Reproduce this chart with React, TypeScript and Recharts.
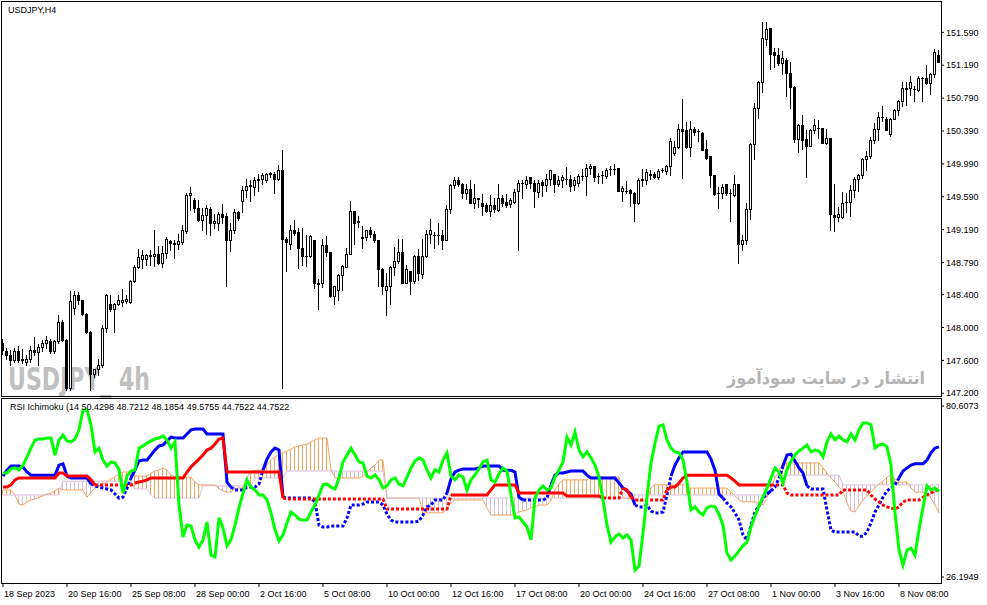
import React from "react";
import { Bar, ComposedChart, Line, XAxis, YAxis } from "recharts";

const FONT = "'Liberation Sans', Arial, sans-serif";
const ORANGE = "#f4a460";
const THISTLE = "#d8bfd8";

// one label every 16 H4 bars
const timeLabels = [
  "18 Sep 2023", "20 Sep 16:00", "25 Sep 08:00", "28 Sep 00:00", "2 Oct 16:00",
  "5 Oct 08:00", "10 Oct 00:00", "12 Oct 16:00", "17 Oct 08:00", "20 Oct 00:00",
  "24 Oct 16:00", "27 Oct 08:00", "1 Nov 00:00", "3 Nov 16:00", "8 Nov 08:00",
];
const priceTicks = [147.2, 147.6, 148.0, 148.4, 148.79, 149.19, 149.59, 149.99, 150.39, 150.79, 151.19, 151.59];
const rsiTicks = [26.1949, 80.6073];

// USDJPY H4 candles
const opens = [
  147.81, 147.71, 147.66, 147.60, 147.71, 147.60, 147.58, 147.62, 147.73, 147.70, 147.76, 147.81, 147.84, 147.72, 147.83, 148.07,
  147.85, 147.27, 148.24, 148.39, 148.33, 148.17, 147.94, 147.44, 147.49, 147.54, 148.00, 148.29, 148.23, 148.29, 148.31, 148.32,
  148.31, 148.56, 148.73, 148.83, 148.83, 148.87, 148.87, 148.90, 148.78, 148.91, 149.05, 149.03, 149.01, 149.04, 149.17, 149.61,
  149.55, 149.45, 149.31, 149.37, 149.44, 149.27, 149.27, 149.38, 149.36, 149.06, 149.18, 149.41, 149.54, 149.67, 149.72, 149.71,
  149.80, 149.81, 149.79, 149.87, 149.87, 149.81, 149.91, 149.08, 149.01, 149.19, 149.16, 148.97, 148.87, 148.87, 149.06, 148.54,
  148.54, 149.00, 148.92, 148.38, 148.46, 148.64, 148.74, 148.90, 149.42, 149.28, 149.10, 149.10, 149.19, 149.14, 149.06, 148.71,
  148.46, 148.50, 148.73, 148.81, 148.92, 148.54, 148.69, 148.56, 148.87, 148.65, 148.87, 149.14, 149.13, 149.12, 149.12, 149.07,
  149.44, 149.73, 149.80, 149.75, 149.64, 149.69, 149.52, 149.56, 149.51, 149.49, 149.42, 149.49, 149.43, 149.57, 149.53, 149.50,
  149.53, 149.66, 149.76, 149.74, 149.83, 149.76, 149.65, 149.77, 149.73, 149.81, 149.87, 149.75, 149.79, 149.81, 149.81, 149.73,
  149.76, 149.84, 149.84, 149.94, 149.96, 149.84, 149.85, 149.84, 149.93, 149.93, 149.94, 149.66, 149.66, 149.67, 149.64, 149.51,
  149.80, 149.79, 149.85, 149.87, 149.83, 149.91, 149.90, 149.96, 150.12, 150.20, 150.42, 150.40, 150.19, 150.41, 150.39, 150.37,
  150.17, 150.08, 149.86, 149.63, 149.63, 149.75, 149.63, 149.61, 149.75, 149.02, 149.06, 149.44, 150.23, 150.67, 150.99, 151.51,
  151.64, 151.35, 151.31, 151.22, 151.25, 151.10, 150.92, 150.29, 150.46, 150.29, 150.21, 150.40, 150.43, 150.43, 150.25, 150.30,
  149.37, 149.34, 149.35, 149.53, 149.53, 149.67, 149.81, 149.85, 150.05, 150.08, 150.28, 150.42, 150.56, 150.54, 150.35, 150.54,
  150.64, 150.75, 150.90, 150.91, 150.90, 150.89, 151.03, 151.04, 150.97, 151.08, 151.32,
];
const highs = [
  147.86, 147.75, 147.73, 147.75, 147.77, 147.74, 147.66, 147.77, 147.89, 147.80, 147.85, 147.90, 147.86, 147.85, 148.15, 148.09,
  147.86, 148.45, 148.45, 148.43, 148.34, 148.18, 147.96, 147.50, 147.62, 148.03, 148.41, 148.40, 148.30, 148.39, 148.47, 148.39,
  148.58, 148.76, 148.95, 148.94, 148.90, 148.94, 149.19, 148.99, 148.99, 149.10, 149.07, 149.06, 149.14, 149.25, 149.64, 149.71,
  149.58, 149.55, 149.45, 149.49, 149.46, 149.38, 149.41, 149.50, 149.39, 149.27, 149.44, 149.42, 149.72, 149.81, 149.79, 149.83,
  149.87, 149.88, 149.88, 149.89, 149.89, 149.98, 150.16, 149.10, 149.25, 149.31, 149.21, 149.21, 149.12, 149.12, 149.06, 148.59,
  149.08, 149.11, 148.92, 148.50, 148.65, 148.76, 148.97, 149.54, 149.42, 149.36, 149.23, 149.19, 149.22, 149.17, 149.06, 148.72,
  148.66, 148.75, 148.98, 149.08, 149.08, 148.76, 148.69, 148.88, 148.96, 149.08, 149.19, 149.32, 149.16, 149.27, 149.19, 149.49,
  149.75, 149.83, 149.83, 149.76, 149.75, 149.79, 149.74, 149.58, 149.62, 149.51, 149.61, 149.58, 149.75, 149.61, 149.62, 149.57,
  149.68, 149.79, 149.80, 149.84, 149.83, 149.79, 149.79, 149.80, 149.87, 149.92, 149.87, 149.84, 149.85, 149.95, 149.85, 149.83,
  149.87, 149.93, 149.99, 149.99, 149.96, 149.88, 149.90, 149.94, 149.96, 149.99, 149.94, 149.72, 149.78, 149.68, 149.65, 149.82,
  149.93, 149.93, 149.91, 149.89, 149.93, 149.94, 149.98, 150.30, 150.27, 150.47, 150.78, 150.50, 150.51, 150.44, 150.42, 150.38,
  150.28, 150.08, 149.86, 149.71, 149.75, 149.75, 149.69, 149.85, 149.75, 149.12, 149.52, 150.24, 150.73, 151.00, 151.72, 151.72,
  151.64, 151.40, 151.40, 151.36, 151.28, 151.23, 150.94, 150.47, 150.58, 150.40, 150.42, 150.53, 150.52, 150.43, 150.42, 150.31,
  149.75, 149.46, 149.65, 149.64, 149.73, 149.83, 149.87, 150.06, 150.15, 150.32, 150.49, 150.62, 150.70, 150.56, 150.55, 150.66,
  150.77, 150.99, 150.99, 151.06, 150.94, 151.06, 151.05, 151.19, 151.10, 151.39, 151.37,
];
const lows = [
  147.68, 147.62, 147.54, 147.58, 147.58, 147.57, 147.55, 147.58, 147.66, 147.55, 147.72, 147.75, 147.69, 147.69, 147.81, 147.83,
  147.24, 147.24, 148.17, 148.29, 148.15, 147.93, 147.24, 147.40, 147.42, 147.52, 147.94, 148.20, 147.94, 148.27, 148.26, 148.30,
  148.30, 148.55, 148.72, 148.72, 148.76, 148.76, 148.75, 148.77, 148.74, 148.85, 148.94, 148.84, 148.96, 149.02, 149.15, 149.43,
  149.41, 149.30, 149.19, 149.14, 149.12, 149.21, 149.19, 149.27, 148.50, 148.93, 149.15, 149.31, 149.41, 149.59, 149.54, 149.61,
  149.66, 149.75, 149.77, 149.83, 149.64, 149.80, 147.26, 148.69, 148.96, 149.12, 148.72, 148.76, 148.75, 148.86, 148.48, 148.23,
  148.49, 148.87, 148.37, 148.29, 148.34, 148.46, 148.73, 148.89, 149.02, 149.22, 148.97, 149.06, 149.10, 149.04, 148.50, 148.41,
  148.15, 148.29, 148.64, 148.78, 148.54, 148.54, 148.41, 148.54, 148.58, 148.60, 148.86, 149.03, 148.97, 149.01, 148.95, 149.06,
  149.39, 149.70, 149.72, 149.57, 149.56, 149.51, 149.45, 149.47, 149.37, 149.40, 149.36, 149.40, 149.42, 149.48, 149.47, 149.47,
  149.52, 148.94, 149.58, 149.70, 149.70, 149.47, 149.59, 149.60, 149.66, 149.73, 149.65, 149.72, 149.71, 149.75, 149.66, 149.67,
  149.72, 149.80, 149.61, 149.87, 149.78, 149.76, 149.76, 149.82, 149.85, 149.87, 149.66, 149.54, 149.63, 149.48, 149.29, 149.50,
  149.72, 149.75, 149.81, 149.82, 149.81, 149.89, 149.87, 149.85, 150.10, 150.18, 149.82, 150.18, 150.08, 150.34, 150.27, 150.16,
  150.05, 149.71, 149.61, 149.45, 149.58, 149.61, 149.29, 149.60, 148.79, 148.94, 149.01, 149.32, 150.05, 150.55, 150.87, 151.44,
  151.15, 151.17, 151.19, 151.08, 150.81, 150.67, 150.26, 150.14, 150.17, 149.83, 150.21, 150.37, 150.31, 150.24, 150.23, 149.19,
  149.17, 149.29, 149.33, 149.41, 149.36, 149.59, 149.66, 149.82, 149.91, 150.06, 150.24, 150.28, 150.51, 150.40, 150.33, 150.53,
  150.59, 150.70, 150.71, 150.83, 150.75, 150.88, 150.75, 150.96, 150.84, 151.05, 151.23,
];
const closes = [
  147.73, 147.66, 147.60, 147.71, 147.60, 147.62, 147.62, 147.73, 147.70, 147.76, 147.81, 147.85, 147.72, 147.83, 148.07, 147.85,
  147.27, 148.32, 148.39, 148.33, 148.17, 147.94, 147.44, 147.49, 147.54, 148.00, 148.40, 148.23, 148.29, 148.34, 148.33, 148.35,
  148.56, 148.73, 148.86, 148.88, 148.88, 148.88, 148.90, 148.78, 148.91, 149.08, 149.03, 149.02, 149.05, 149.19, 149.61, 149.63,
  149.45, 149.31, 149.37, 149.45, 149.27, 149.29, 149.38, 149.35, 149.06, 149.19, 149.41, 149.33, 149.67, 149.72, 149.73, 149.80,
  149.81, 149.85, 149.87, 149.88, 149.81, 149.91, 149.08, 149.04, 149.19, 149.15, 148.97, 148.87, 148.87, 149.11, 148.54, 148.53,
  149.00, 148.92, 148.38, 148.50, 148.64, 148.75, 148.90, 149.42, 149.27, 149.29, 149.09, 149.19, 149.14, 149.06, 148.71, 148.50,
  148.50, 148.73, 148.81, 148.92, 148.54, 148.71, 148.56, 148.87, 148.66, 148.87, 149.14, 149.18, 149.12, 149.12, 149.07, 149.44,
  149.73, 149.79, 149.75, 149.64, 149.69, 149.52, 149.57, 149.58, 149.48, 149.42, 149.49, 149.44, 149.57, 149.52, 149.49, 149.55,
  149.65, 149.76, 149.76, 149.79, 149.76, 149.66, 149.76, 149.73, 149.81, 149.92, 149.74, 149.80, 149.83, 149.81, 149.72, 149.79,
  149.84, 149.84, 149.94, 149.96, 149.83, 149.84, 149.85, 149.92, 149.93, 149.93, 149.66, 149.70, 149.66, 149.64, 149.51, 149.79,
  149.81, 149.89, 149.87, 149.83, 149.90, 149.91, 149.96, 150.27, 150.19, 150.42, 150.39, 150.19, 150.41, 150.38, 150.39, 150.16,
  150.06, 149.86, 149.62, 149.63, 149.71, 149.63, 149.63, 149.74, 149.02, 149.06, 149.44, 150.23, 150.67, 150.99, 151.52, 151.63,
  151.33, 151.31, 151.22, 151.28, 151.10, 150.92, 150.29, 150.46, 150.28, 150.21, 150.40, 150.46, 150.43, 150.25, 150.30, 149.38,
  149.35, 149.38, 149.52, 149.53, 149.67, 149.81, 149.85, 150.05, 150.08, 150.28, 150.42, 150.56, 150.56, 150.40, 150.54, 150.64,
  150.75, 150.91, 150.91, 150.99, 150.90, 151.03, 151.03, 150.97, 151.08, 151.35, 151.23,
];

// RSI Ichimoku buffers
const rsi = [
  59.3, 59.3, 60.6, 60.9, 60.3, 61.8, 64.4, 67.2, 69.8, 70.1, 70.1, 70.4, 70.4, 65.0, 69.8, 71.4,
  69.5, 69.2, 70.1, 73.0, 79.3, 79.3, 74.6, 66.0, 67.2, 63.4, 61.5, 62.8, 62.5, 60.3, 52.9, 58.3,
  59.9, 60.3, 67.2, 67.9, 68.8, 69.5, 70.1, 70.4, 71.1, 69.8, 67.2, 69.2, 49.1, 38.9, 42.7, 42.4,
  38.0, 35.7, 38.0, 43.7, 33.2, 32.6, 45.0, 41.8, 36.1, 38.0, 42.7, 48.2, 52.9, 57.1, 54.8, 53.9,
  52.3, 52.3, 50.7, 46.6, 41.2, 37.7, 39.6, 43.4, 46.9, 45.9, 44.6, 44.3, 44.3, 46.9, 49.1, 52.3,
  55.5, 55.8, 54.8, 54.2, 57.7, 62.8, 65.0, 67.2, 65.0, 62.8, 62.5, 58.3, 57.7, 58.7, 57.1, 54.5,
  55.2, 57.1, 57.7, 55.8, 55.2, 58.0, 60.9, 63.1, 64.1, 63.4, 60.3, 57.7, 60.3, 59.6, 63.4, 65.7,
  58.3, 57.1, 58.7, 58.0, 53.9, 57.1, 58.7, 60.6, 62.8, 63.4, 57.1, 56.4, 59.0, 60.9, 59.9, 52.3,
  45.0, 45.3, 43.7, 42.1, 38.0, 51.3, 53.9, 55.2, 53.9, 54.5, 58.0, 60.3, 62.8, 70.7, 68.2, 72.3,
  66.6, 64.4, 66.0, 64.1, 61.8, 58.0, 50.7, 42.7, 37.3, 38.9, 39.9, 38.6, 39.6, 38.0, 28.4, 29.7,
  40.2, 51.7, 62.5, 68.8, 74.2, 74.6, 69.8, 67.2, 66.0, 65.7, 63.4, 56.4, 47.5, 48.5, 46.9, 45.9,
  48.2, 48.8, 48.5, 46.2, 42.7, 33.8, 31.6, 32.9, 34.5, 36.1, 37.3, 42.1, 45.6, 48.8, 51.7, 54.5,
  57.7, 60.9, 59.6, 56.1, 60.3, 63.1, 65.0, 66.3, 67.2, 68.2, 66.0, 66.6, 66.3, 64.4, 69.2, 71.7,
  69.8, 71.1, 69.8, 69.2, 71.7, 69.8, 73.0, 75.2, 75.2, 74.6, 67.2, 68.2, 68.5, 67.6, 61.8, 46.6,
  34.8, 30.0, 34.8, 35.4, 33.2, 41.2, 48.2, 55.2, 53.9, 54.5, 53.4,
];
const blue = [
  58.3, 60.2, 61.5, 61.5, 61.5, 61.2, 59.6, 58.6, 58.6, 58.6, 58.6, 58.6, 58.6, 58.6, 61.8, 62.2,
  58.3, 57.7, 57.7, 57.7, 57.7, 57.7, 55.8, 55.2, 54.8, 54.5, 54.2, 53.9, 52.6, 51.3, 51.6, 54.5,
  57.7, 60.2, 63.1, 63.4, 63.4, 65.0, 66.6, 67.9, 68.2, 69.5, 70.7, 70.4, 70.4, 70.4, 71.7, 73.0,
  73.3, 73.3, 73.3, 71.7, 71.7, 71.7, 71.7, 71.7, 56.4, 54.8, 53.9, 53.9, 53.9, 54.8, 54.8, 54.8,
  55.8, 60.2, 63.7, 66.0, 67.2, 66.6, 51.6, 51.3, 51.3, 51.3, 51.3, 51.3, 51.3, 51.3, 50.1, 42.7,
  42.1, 42.1, 42.4, 42.4, 42.4, 42.4, 45.0, 49.1, 49.1, 49.1, 49.4, 50.1, 50.1, 50.1, 50.1, 49.1,
  46.2, 44.3, 43.7, 43.7, 43.7, 43.7, 43.7, 43.7, 44.0, 45.9, 48.5, 49.1, 50.7, 50.7, 50.7, 52.9,
  57.4, 59.6, 60.2, 60.6, 60.6, 60.6, 60.6, 60.9, 61.5, 61.5, 61.5, 61.5, 61.5, 60.2, 60.2, 60.2,
  59.6, 51.6, 50.7, 50.7, 50.7, 50.7, 50.7, 50.7, 51.3, 55.5, 58.6, 59.3, 59.3, 59.6, 59.9, 59.9,
  59.9, 59.9, 58.6, 57.7, 57.7, 57.7, 57.7, 57.7, 57.7, 57.7, 56.1, 54.5, 53.6, 52.6, 49.1, 48.5,
  48.5, 49.1, 47.2, 46.6, 46.6, 46.9, 52.3, 58.3, 61.8, 64.1, 66.0, 66.0, 66.0, 66.0, 66.0, 66.0,
  66.0, 63.7, 60.2, 52.6, 51.3, 49.7, 48.5, 46.6, 44.3, 39.6, 38.0, 42.7, 46.9, 48.8, 51.3, 52.6,
  53.6, 54.8, 57.7, 61.5, 65.0, 65.3, 63.1, 60.9, 59.3, 55.2, 54.2, 54.2, 54.2, 54.2, 47.5, 41.1,
  40.5, 40.5, 40.5, 40.5, 40.5, 40.5, 39.2, 39.2, 40.5, 43.4, 46.9, 49.1, 51.6, 53.6, 54.5, 55.5,
  57.7, 59.9, 60.9, 61.8, 62.2, 62.2, 62.2, 63.4, 65.7, 67.2, 67.6,
];
const red = [
  54.8, 54.8, 55.5, 57.1, 57.7, 57.7, 57.7, 57.7, 57.7, 57.7, 57.7, 57.7, 57.7, 57.7, 59.3, 59.3,
  58.3, 58.3, 58.3, 58.3, 58.3, 58.3, 57.1, 55.5, 55.5, 55.5, 55.5, 55.5, 55.5, 55.5, 55.5, 55.5,
  55.5, 56.1, 56.4, 56.7, 57.1, 57.7, 57.7, 57.7, 57.7, 57.7, 57.7, 57.7, 57.7, 57.7, 59.6, 61.2,
  62.5, 63.7, 65.0, 66.6, 67.2, 68.5, 70.1, 70.4, 59.6, 59.6, 59.6, 59.6, 59.6, 59.6, 59.6, 59.6,
  59.6, 59.6, 59.6, 59.6, 59.6, 59.6, 51.3, 51.0, 51.0, 51.0, 51.0, 51.0, 51.0, 51.0, 51.0, 51.0,
  51.0, 51.0, 51.0, 51.0, 51.0, 51.0, 51.0, 51.0, 51.0, 51.0, 51.0, 51.0, 51.0, 51.0, 51.0, 51.0,
  47.8, 47.8, 47.8, 47.8, 47.8, 47.8, 47.8, 47.8, 47.8, 47.8, 47.8, 47.8, 47.8, 47.8, 47.8, 47.8,
  52.3, 52.3, 52.3, 52.3, 52.3, 52.3, 52.3, 52.3, 52.3, 52.3, 53.9, 55.5, 55.5, 55.5, 55.5, 55.5,
  55.5, 52.9, 52.9, 52.9, 52.9, 52.9, 52.9, 52.9, 52.9, 52.9, 52.9, 52.9, 52.9, 52.0, 52.0, 52.0,
  52.0, 52.0, 52.0, 52.0, 52.0, 52.0, 51.3, 51.3, 51.3, 51.3, 51.3, 54.5, 53.9, 51.6, 50.7, 50.7,
  50.7, 50.7, 50.7, 50.7, 50.7, 50.7, 53.9, 54.8, 54.8, 56.1, 57.7, 58.6, 58.6, 58.6, 58.6, 58.6,
  58.6, 58.6, 58.6, 58.6, 58.6, 58.6, 57.7, 56.7, 55.5, 55.5, 55.5, 55.5, 55.5, 55.5, 55.5, 55.5,
  55.5, 55.5, 55.5, 55.5, 52.9, 52.3, 52.3, 52.3, 52.3, 52.3, 52.3, 52.3, 52.3, 52.3, 52.3, 52.3,
  52.3, 52.3, 53.9, 53.9, 53.9, 53.9, 53.9, 53.9, 53.9, 52.3, 51.0, 50.1, 49.1, 48.5, 48.2, 47.8,
  48.5, 50.1, 50.7, 50.7, 50.7, 50.7, 51.6, 52.3, 52.9, 53.6, 53.9,
];
const spanA = [
  53.9, 53.9, 53.9, 52.3, 49.4, 49.1, 50.1, 50.7, 51.0, 51.6, 52.0, 52.6, 52.9, 53.6, 54.5, 53.9,
  53.9, 53.9, 53.9, 53.9, 53.9, 51.6, 53.2, 54.5, 55.2, 55.8, 56.4, 57.4, 58.0, 59.0, 59.6, 59.6,
  59.6, 58.3, 58.3, 58.3, 58.3, 59.3, 59.9, 60.2, 60.9, 60.2, 58.6, 58.0, 58.0, 58.0, 58.0, 58.0,
  56.4, 55.5, 55.5, 55.5, 55.5, 55.5, 54.2, 53.6, 53.2, 53.2, 54.2, 54.5, 54.5, 58.0, 59.9, 60.2,
  60.2, 60.2, 61.8, 63.4, 64.4, 65.0, 65.7, 66.3, 66.9, 67.6, 67.9, 68.2, 68.5, 69.2, 69.8, 70.4,
  70.4, 70.4, 60.2, 57.7, 57.7, 57.7, 57.7, 57.7, 57.7, 57.7, 58.3, 59.6, 60.9, 61.8, 63.4, 63.4,
  51.3, 51.3, 51.3, 51.3, 51.3, 51.3, 51.3, 51.3, 51.3, 46.6, 46.6, 46.6, 46.6, 46.6, 46.6, 48.2,
  49.7, 50.7, 50.7, 50.7, 50.7, 50.7, 50.7, 50.7, 50.7, 48.2, 45.9, 45.9, 45.9, 45.9, 45.9, 45.9,
  45.9, 46.9, 47.2, 47.5, 48.2, 48.5, 49.1, 49.1, 49.1, 50.7, 53.9, 55.8, 57.1, 57.1, 57.1, 57.1,
  57.1, 57.1, 57.1, 58.0, 58.0, 58.0, 58.0, 58.0, 58.0, 58.0, 58.0, 51.3, 51.3, 51.0, 50.7, 50.4,
  50.4, 50.7, 54.5, 55.8, 55.5, 55.5, 55.5, 55.5, 55.5, 55.5, 55.5, 55.5, 54.5, 54.5, 54.5, 54.5,
  54.5, 54.5, 54.5, 54.5, 54.5, 54.5, 53.2, 52.0, 50.7, 50.1, 50.1, 50.1, 50.1, 49.7, 49.1, 51.6,
  54.5, 57.7, 60.2, 62.5, 62.5, 62.5, 62.5, 62.5, 62.5, 62.5, 62.5, 62.5, 62.5, 60.9, 59.3, 57.7,
  56.4, 54.8, 53.6, 49.7, 47.2, 46.9, 48.8, 50.7, 52.0, 53.2, 54.5, 55.8, 56.7, 58.0, 58.6, 57.4,
  56.4, 56.4, 56.4, 54.5, 53.2, 53.2, 53.2, 52.3, 51.3, 49.1, 46.6,
];
const spanB = [
  52.3, 52.3, 52.3, 52.3, 52.3, 52.3, 52.3, 52.3, 52.3, 52.3, 52.3, 52.3, 52.3, 52.3, 52.3, 56.7,
  56.7, 56.7, 56.7, 56.7, 56.7, 56.7, 56.7, 56.7, 56.7, 56.7, 56.7, 56.7, 56.7, 56.7, 56.7, 56.7,
  56.7, 54.2, 54.2, 54.2, 54.2, 52.3, 51.3, 51.3, 51.3, 51.3, 51.3, 51.3, 51.3, 51.3, 51.3, 51.3,
  51.3, 51.3, 55.2, 55.2, 55.2, 55.2, 55.2, 55.2, 55.2, 55.2, 55.2, 55.2, 55.2, 55.2, 55.2, 57.7,
  57.7, 57.7, 57.7, 57.7, 57.7, 57.7, 57.7, 59.9, 59.9, 59.9, 59.9, 59.9, 59.9, 59.9, 59.9, 59.9,
  59.9, 59.9, 59.9, 59.9, 59.9, 59.9, 59.9, 59.9, 59.9, 59.9, 59.9, 59.9, 59.9, 59.9, 59.9, 59.9,
  51.3, 51.3, 51.3, 51.3, 51.3, 51.3, 51.3, 51.3, 51.3, 51.3, 51.3, 51.3, 51.3, 51.3, 51.3, 51.3,
  51.3, 51.3, 51.3, 51.3, 51.3, 51.3, 51.3, 51.3, 51.3, 51.3, 51.3, 51.3, 51.3, 51.3, 51.3, 51.3,
  51.3, 51.3, 51.3, 51.3, 51.3, 51.3, 51.3, 51.3, 51.3, 51.3, 51.3, 51.3, 51.3, 51.3, 51.3, 51.3,
  51.3, 51.3, 51.3, 51.3, 51.3, 51.3, 51.3, 51.3, 51.3, 51.3, 51.3, 51.3, 51.3, 52.3, 52.3, 52.3,
  52.3, 52.3, 52.3, 52.3, 52.3, 52.3, 52.3, 52.3, 52.3, 52.3, 52.3, 52.3, 52.3, 52.3, 52.3, 52.3,
  52.3, 52.3, 52.3, 52.3, 52.3, 52.3, 52.3, 52.3, 52.3, 52.3, 52.3, 52.3, 52.3, 52.3, 52.3, 52.3,
  58.6, 58.6, 58.6, 58.6, 58.6, 58.6, 58.6, 58.6, 58.6, 58.6, 58.6, 58.6, 58.6, 58.6, 58.6, 58.6,
  58.6, 58.6, 55.5, 55.5, 55.5, 55.5, 55.5, 55.5, 55.5, 55.5, 55.5, 55.5, 55.5, 55.5, 55.5, 55.5,
  55.5, 55.5, 55.5, 55.5, 55.5, 55.5, 55.5, 55.5, 55.5, 55.5, 55.5,
];

const candles = closes.map((c, i) => ({
  i,
  o: opens[i],
  h: highs[i],
  l: lows[i],
  c,
  range: [lows[i], highs[i]],
}));

// solid where the line sits above span B, dotted elsewhere
function split(values: number[]) {
  const up = values.map((v, i) => v > spanB[i]);
  return values.map((v, i) => ({
    solid: up[i] || (i > 0 && up[i - 1]) ? v : null,
    dot: !up[i] || (i > 0 && !up[i - 1]) ? v : null,
  }));
}
const blueParts = split(blue);
const redParts = split(red);

const indicator = rsi.map((v, i) => ({
  i,
  rsi: v,
  a: spanA[i],
  b: spanB[i],
  cloud: [Math.min(spanA[i], spanB[i]), Math.max(spanA[i], spanB[i])],
  blueSolid: blueParts[i].solid,
  blueDot: blueParts[i].dot,
  redSolid: redParts[i].solid,
  redDot: redParts[i].dot,
}));

function Candle(props: any) {
  const { x, y, width, height, payload } = props;
  if (!payload || typeof x !== "number") return null;
  const { o, h, l, c } = payload;
  const top = Math.min(y, y + height);
  const bot = Math.max(y, y + height);
  const toY = (p: number) => (h === l ? top : top + ((h - p) / (h - l)) * (bot - top));
  const n = Math.floor(x + width / 2);
  const yo = Math.round(toY(o));
  const yc = Math.round(toY(c));
  const b0 = Math.min(yo, yc);
  const b1 = Math.max(yo, yc);
  let body;
  if (b1 - b0 < 1) {
    body = <line x1={n - 1} x2={n + 2} y1={b0 + 0.5} y2={b0 + 0.5} stroke="#000" />;
  } else if (c > o) {
    body = <rect x={n - 0.5} y={b0 + 0.5} width={2} height={b1 - b0} fill="#fff" stroke="#000" />;
  } else {
    body = <rect x={n - 1} y={b0} width={3} height={b1 - b0 + 1} fill="#000" />;
  }
  return (
    <g>
      <line x1={n + 0.5} x2={n + 0.5} y1={Math.round(top)} y2={Math.round(bot) + 1} stroke="#000" />
      {body}
    </g>
  );
}

function Hatch(props: any) {
  const { x, y, width, height, payload } = props;
  if (!payload || typeof x !== "number" || !height) return null;
  const cx = Math.floor(x + width / 2) + 0.5;
  const top = Math.min(y, y + height);
  const bot = Math.max(y, y + height);
  return (
    <line x1={cx} x2={cx} y1={top} y2={bot} stroke={payload.a > payload.b ? ORANGE : THISTLE} strokeWidth={1} />
  );
}

function TimeTick(props: any) {
  const { x, y, payload } = props;
  const label = timeLabels[Math.round(payload.value / 16)];
  return (
    <text x={x + 1} y={y + 8} textAnchor="start" fontSize={9} fontFamily={FONT} fill="#000">
      {label}
    </text>
  );
}

const axisTick = { fontSize: 9, fill: "#000", fontFamily: FONT };

export default function App() {
  return (
    <div
      style={{
        position: "absolute",
        left: 0,
        top: 0,
        width: 987,
        height: 605,
        background: "#fff",
        overflow: "hidden",
        fontFamily: FONT,
      }}
    >
      <svg width={987} height={605} style={{ position: "absolute", left: 0, top: 0 }}>
        <text
          x={8}
          y={390}
          fontSize={32}
          fontWeight="bold"
          fontFamily="'Liberation Sans Narrow', 'DejaVu Sans Condensed', 'Liberation Sans', sans-serif"
          fill="#c0c0c0"
          textLength={142}
          lengthAdjust="spacingAndGlyphs"
        >
          USDJPY_ 4h
        </text>
        <text
          x={727}
          y={384}
          fontSize={17}
          fontWeight="bold"
          fontFamily="'DejaVu Sans', sans-serif"
          fill="#b4b4b4"
          textLength={198}
          lengthAdjust="spacingAndGlyphs"
        >
          انتشار در سایت سودآموز
        </text>
      </svg>

      <div style={{ position: "absolute", left: 0, top: 0 }}>
        <ComposedChart width={987} height={398} data={candles} margin={{ top: 2, right: 1, bottom: 2, left: 1 }}>
          <XAxis dataKey="i" hide />
          <YAxis
            orientation="right"
            width={45}
            domain={[147.167, 151.959]}
            allowDataOverflow
            ticks={priceTicks}
            interval={0}
            tickFormatter={(v: number) => v.toFixed(3)}
            tick={axisTick}
            tickSize={3}
            tickMargin={2}
            axisLine={false}
            tickLine={{ stroke: "#000" }}
          />
          <Bar dataKey="range" shape={<Candle />} isAnimationActive={false} />
        </ComposedChart>
      </div>

      <div style={{ position: "absolute", left: 0, top: 397 }}>
        <ComposedChart width={987} height={208} data={indicator} margin={{ top: 2, right: 1, bottom: 0, left: 1 }}>
          <XAxis
            dataKey="i"
            interval={15}
            height={22}
            tick={<TimeTick />}
            tickSize={4}
            axisLine={false}
            tickLine={{ stroke: "#000" }}
          />
          <YAxis
            orientation="right"
            width={45}
            domain={[24.286, 82.835]}
            allowDataOverflow
            ticks={rsiTicks}
            interval={0}
            tickFormatter={(v: number) => v.toFixed(4)}
            tick={axisTick}
            tickSize={3}
            tickMargin={2}
            axisLine={false}
            tickLine={{ stroke: "#000" }}
          />
          <Bar dataKey="cloud" shape={<Hatch />} isAnimationActive={false} />
          <Line dataKey="a" stroke={ORANGE} strokeWidth={1} dot={false} isAnimationActive={false} />
          <Line dataKey="b" stroke={THISTLE} strokeWidth={1} dot={false} isAnimationActive={false} />
          <Line dataKey="blueSolid" stroke="#0000ff" strokeWidth={3} dot={false} isAnimationActive={false} />
          <Line
            dataKey="blueDot"
            stroke="#0000ff"
            strokeWidth={3}
            strokeDasharray="3 2"
            dot={false}
            isAnimationActive={false}
          />
          <Line dataKey="redSolid" stroke="#ff0000" strokeWidth={3} dot={false} isAnimationActive={false} />
          <Line
            dataKey="redDot"
            stroke="#ff0000"
            strokeWidth={3}
            strokeDasharray="3 2"
            dot={false}
            isAnimationActive={false}
          />
          <Line dataKey="rsi" stroke="#00ff00" strokeWidth={3} dot={false} isAnimationActive={false} />
        </ComposedChart>
      </div>

      <div
        style={{
          position: "absolute",
          left: 1,
          top: 1,
          width: 941,
          height: 396,
          border: "1px solid #000",
          boxSizing: "border-box",
          pointerEvents: "none",
        }}
      />
      <div
        style={{
          position: "absolute",
          left: 1,
          top: 398,
          width: 941,
          height: 186,
          border: "1px solid #000",
          boxSizing: "border-box",
          pointerEvents: "none",
        }}
      />
      <div style={{ position: "absolute", left: 8, top: 5, fontSize: 9, color: "#000", whiteSpace: "nowrap" }}>
        USDJPY,H4
      </div>
      <div style={{ position: "absolute", left: 10, top: 402, fontSize: 9, color: "#000", whiteSpace: "nowrap" }}>
        RSI Ichimoku (14 50.4298 48.7212 48.1854 49.5755 44.7522 44.7522
      </div>
    </div>
  );
}
